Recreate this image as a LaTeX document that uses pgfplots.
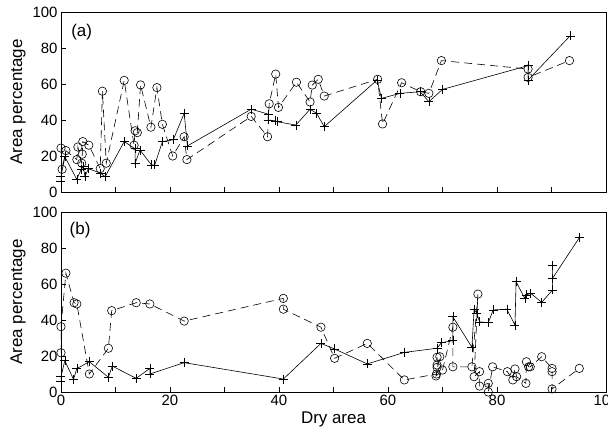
\documentclass[border=0pt]{standalone}
\usepackage{fontspec}
\setmainfont{Liberation Sans}
\usepackage{pgfplots}
\pgfplotsset{compat=1.18}

\pgfplotstableread{
x y
0 5.7
0 8.5
0.7 19.6
2.9 7
3.7 12.6
4.1 14
4.4 8.5
5 13
7.3 10.4
8.1 8.5
11.6 28
13.6 24
13.6 16
14.5 23.3
16.6 15
17.2 15
18.6 28
20.6 29
22.6 43.7
23.2 25.6
34.9 46
38 43.3
38 40
39.4 39.5
39.7 39
43.1 37.2
45.7 46
46.9 43.7
48.3 36.3
58 62.2
58.8 52
62.2 54.8
65.9 55.7
67.5 50.2
70 57
85.7 70.2
85.7 62.2
93.4 86.7
}\topplus

\pgfplotstableread{
x y
0 24.4
0.2 12.6
0.9 23
2.9 18
3.1 25
3.8 16
3.9 21
4.0 28
5.1 26
7.2 13
7.6 56
8.3 16
11.6 62
13.4 26
13.6 34
14 33
14.6 59.5
16.5 36
17.6 58
18.6 37.6
20.5 20
22.6 30.7
23.1 18
34.9 42
37.9 30.7
38.2 49
39.4 65.5
39.9 47
43.2 61
45.7 50
46.1 59.4
47.2 62.6
48.3 53.3
58.1 62.6
59 37.8
62.5 60.7
66 55.7
67.5 54.8
69.8 73
85.7 68.3
85.7 63.7
93.3 73
}\topcirc

\pgfplotstableread{
x y
0 5.7
0 8.5
0.7 17.4
2.3 7
2.9 13
5.2 16.8
8.7 8.2
9.4 14.4
13.8 7.6
16.3 13.1
16.3 10
22.6 16.3
40.8 7.2
47.7 27
50.2 23.9
56.2 15.6
63 22
69 24.3
69.8 27.4
71.9 28.5
71.9 41.8
75.4 24.8
75.8 46
76.3 43.7
76.8 39
78.4 38.5
79.3 45.6
81.8 46
83.3 37.2
83.5 61.3
85.1 52
85.4 54
86.2 54.8
88.2 49.8
90.2 56.7
90.2 70.2
90.2 63.2
95.1 85.7
}\botplus

\pgfplotstableread{
x y
0 21.8
0 36.3
0.9 66
2.4 49.6
2.9 48.9
5.2 10
8.7 24.3
9.3 45.2
13.8 49.6
16.3 48.9
22.6 39.4
40.8 52
40.8 46
47.7 36
50.2 18.7
56.2 27
63 6.7
68.9 10
69 13.7
69 15
69 19.3
69.5 19.6
68.8 8.9
70 12.2
71.9 36
71.9 14
75.4 14
76.5 54.4
75.8 8.5
76.8 11.3
76.8 3.3
78.4 4.8
78.4 0
79.2 14
81.9 11.3
82.9 6.7
83.3 12.8
83.6 8.5
85.3 4.8
85.4 16.8
85.8 14
86.1 14
88.2 19.6
90.1 13.1
90.1 11.3
90.1 1.7
95.1 13.1
}\botcirc

\pgfplotsset{myax/.style={
  scale only axis, width=545bp, height=180bp,
  xmin=0, xmax=100, ymin=0, ymax=100,
  xtick={0,10,...,100}, ytick={0,20,...,100},
  tick align=inside, xtick pos=bottom, ytick pos=left,
  major tick length=5bp,
  tick label style={font=\fontsize{15}{17}\selectfont},
  /pgf/number format/assume math mode=true,
  axis line style={line width=0.6pt},
  every tick/.style={black, line width=0.6pt},
  ylabel={Area percentage},
  every axis y label/.style={at={(axis description cs:-0.079,0.5)}, rotate=90, anchor=center, font=\fontsize{17}{19}\selectfont},
  every axis x label/.style={at={(axis description cs:0.5,-0.155)}, anchor=center, font=\fontsize{17}{19}\selectfont},
  plusline/.style={black, line width=0.6pt, mark=+, mark size=4.5bp, mark options={solid, line width=0.6pt}},
  circline/.style={black, line width=0.6pt, dash pattern=on 8bp off 5bp, mark=o, mark size=4.2bp, mark options={solid, line width=0.6pt}},
}}

\begin{document}
\begin{tikzpicture}
\path[use as bounding box] (-61bp,-37bp) rectangle (547bp,392bp);
\begin{axis}[myax, at={(0,200bp)}, anchor=south west, xticklabels={}]
\addplot[plusline] table[x=x,y=y] {\topplus};
\addplot[circline] table[x=x,y=y] {\topcirc};
\node[font=\fontsize{17}{19}\selectfont] at (axis description cs:0.038,0.889) {(a)};
\end{axis}
\begin{axis}[myax, at={(0,0)}, anchor=south west, xticklabels={0,,20,,40,,60,,80,,100}, xlabel={Dry area}]
\addplot[plusline] table[x=x,y=y] {\botplus};
\addplot[circline] table[x=x,y=y] {\botcirc};
\node[font=\fontsize{17}{19}\selectfont] at (axis description cs:0.035,0.9) {(b)};
\end{axis}
\end{tikzpicture}
\end{document}
